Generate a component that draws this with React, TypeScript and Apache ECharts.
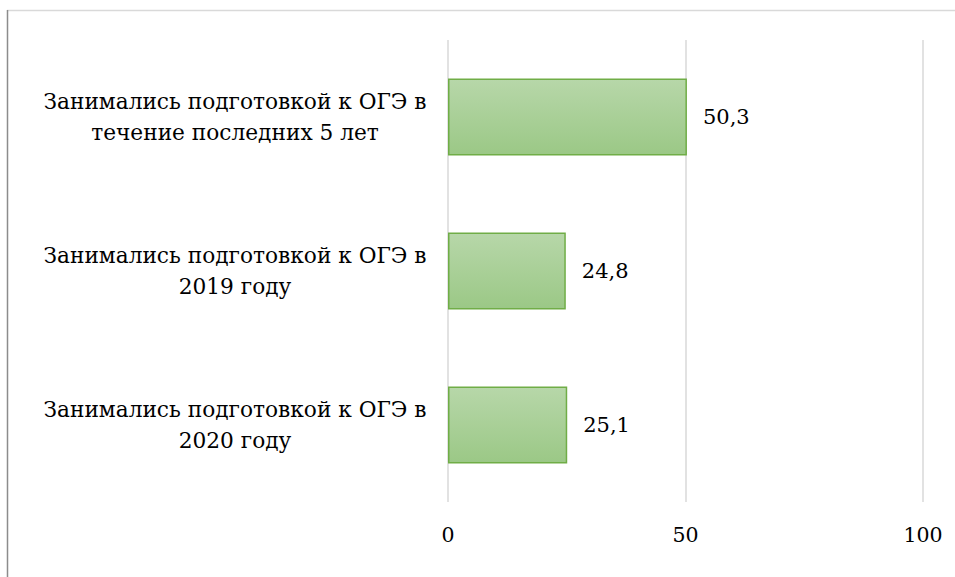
import React, { useEffect, useRef } from "react";
import * as echarts from "echarts";

const categories = [
  "Занимались подготовкой к ОГЭ в\nтечение последних 5 лет",
  "Занимались подготовкой к ОГЭ в\n2019 году",
  "Занимались подготовкой к ОГЭ в\n2020 году",
];
const values = [50.3, 24.8, 25.1];
const xMin = 0;
const xMax = 100;
const xInterval = 50;

const FONT = "DejaVu Serif";

export default function App() {
  const ref = useRef<HTMLDivElement>(null);
  useEffect(() => {
    if (!ref.current) return;
    const chart = echarts.init(ref.current, undefined, { renderer: "svg" });
    chart.setOption({
      animation: false,
      backgroundColor: "#ffffff",
      textStyle: { fontFamily: FONT },
      grid: { left: 448, right: 32, top: 40, bottom: 75 },
      xAxis: {
        type: "value",
        min: xMin,
        max: xMax,
        interval: xInterval,
        axisLine: { show: false },
        axisTick: { show: false },
        splitLine: { show: true, lineStyle: { color: "#d9d9d9", width: 1.5 } },
        axisLabel: {
          color: "#000",
          fontFamily: FONT,
          fontSize: 20.5,
          margin: 22,
        },
      },
      yAxis: {
        type: "category",
        data: categories,
        inverse: true,
        axisLine: { show: false },
        axisTick: { show: false },
        axisLabel: {
          color: "#000",
          fontFamily: FONT,
          fontSize: 21.7,
          lineHeight: 31,
          align: "center",
          margin: 213,
        },
      },
      series: [
        {
          type: "bar",
          data: values,
          barWidth: 77,
          itemStyle: {
            color: new echarts.graphic.LinearGradient(0, 0, 0, 1, [
              { offset: 0, color: "#b7d7a9" },
              { offset: 1, color: "#9bc886" },
            ]),
            borderColor: "#70ad47",
            borderWidth: 1.5,
          },
          label: {
            show: true,
            position: "right",
            distance: 16,
            color: "#000",
            fontFamily: FONT,
            fontSize: 21,
            formatter: (p: any) => String(p.value).replace(".", ","),
          },
        },
      ],
      graphic: [
        {
          type: "line",
          shape: { x1: 7, y1: 10.5, x2: 955, y2: 10.5 },
          style: { stroke: "#d9d9d9", lineWidth: 1.5 },
          silent: true,
        },
        {
          type: "line",
          shape: { x1: 7.5, y1: 10, x2: 7.5, y2: 577 },
          style: { stroke: "#8c8c8c", lineWidth: 1.5 },
          silent: true,
        },
      ],
    });
    return () => chart.dispose();
  }, []);
  return (
    <div
      ref={ref}
      style={{ position: "fixed", left: 0, top: 0, width: 955, height: 577 }}
    />
  );
}
